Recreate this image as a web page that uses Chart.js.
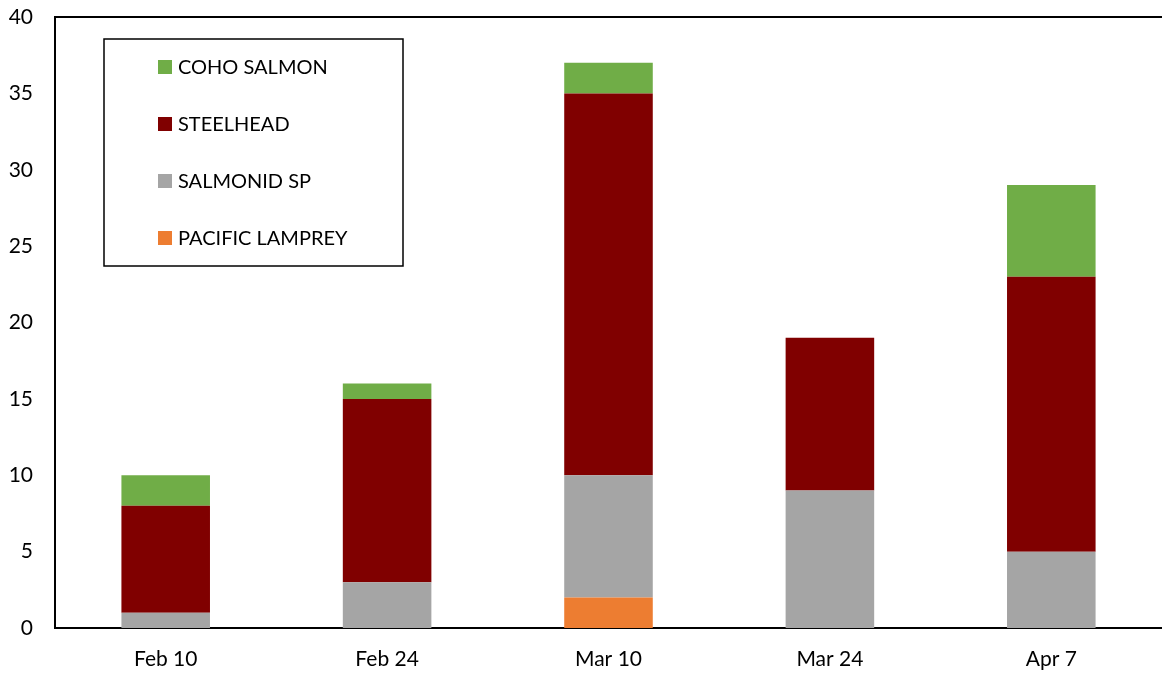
<!DOCTYPE html>
<html>
<head>
<meta charset="utf-8">
<script src="https://cdn.jsdelivr.net/npm/chart.js@4"></script>
<style>
  html, body { margin: 0; padding: 0; background: #fff; }
  #wrap { width: 1162px; height: 675px; position: relative; }
</style>
</head>
<body>
<div id="wrap"><canvas id="fishChart"></canvas></div>
<script>
// Datos
const fechas = ['Feb 10', 'Feb 24', 'Mar 10', 'Mar 24', 'Apr 7'];
const pacificLamprey = [0, 0, 2, 0, 0];
const salmonidSp = [1, 3, 8, 9, 5];
const steelhead = [7, 12, 25, 10, 18];
const cohoSalmon = [2, 1, 2, 0, 6];
const yTicks = [0, 5, 10, 15, 20, 25, 30, 35, 40];

const FONT = 'Lato, "Noto Sans", sans-serif';

// Leyenda dibujada dentro del area del grafico, con recuadro
const boxedLegend = {
    id: 'boxedLegend',
    afterDraw(chart) {
        const ctx = chart.ctx;
        const area = chart.chartArea;
        ctx.save();
        // borde superior del area de trazado
        ctx.strokeStyle = '#000';
        ctx.lineWidth = 2;
        ctx.beginPath();
        ctx.moveTo(area.left, area.top);
        ctx.lineTo(area.right, area.top);
        ctx.stroke();

        const x = 104, y = 39, w = 299, h = 227;
        ctx.lineWidth = 1.5;
        ctx.strokeRect(x, y, w, h);

        const items = chart.data.datasets.slice().reverse();
        ctx.font = '20px ' + FONT;
        ctx.textBaseline = 'middle';
        ctx.textAlign = 'left';
        items.forEach((ds, i) => {
            const cy = 67 + i * 57;
            ctx.fillStyle = ds.backgroundColor;
            ctx.fillRect(158, cy - 7, 14, 14);
            ctx.fillStyle = '#000';
            ctx.fillText(ds.label, 178, cy + 1);
        });
        ctx.restore();
    }
};

new Chart(document.getElementById('fishChart'), {
    type: 'bar',
    data: {
        labels: fechas,
        datasets: [
            { label: 'PACIFIC LAMPREY', data: pacificLamprey, backgroundColor: '#ED7D31' },
            { label: 'SALMONID SP', data: salmonidSp, backgroundColor: '#A5A5A5' },
            { label: 'STEELHEAD', data: steelhead, backgroundColor: '#800000' },
            { label: 'COHO SALMON', data: cohoSalmon, backgroundColor: '#70AD47' }
        ]
    },
    options: {
        responsive: true,
        maintainAspectRatio: false,
        animation: false,
        layout: { padding: { top: 17, right: -3, left: 0, bottom: 0 } },
        datasets: { bar: { categoryPercentage: 1, barPercentage: 0.4, borderWidth: 0 } },
        scales: {
            x: {
                stacked: true,
                grid: { display: false, drawTicks: false },
                border: { color: '#000', width: 2 },
                ticks: { color: '#000', font: { family: FONT, size: 21 }, padding: 19, maxRotation: 0 },
                afterFit: s => { s.height = 47; }
            },
            y: {
                stacked: true,
                min: 0,
                max: 40,
                grid: { display: false, drawTicks: false },
                border: { color: '#000', width: 2 },
                afterBuildTicks: s => { s.ticks = yTicks.map(v => ({ value: v })); },
                ticks: { color: '#000', font: { family: FONT, size: 21 }, padding: 22 },
                afterFit: s => { s.width = 55; s.paddingTop = 0; s.paddingBottom = 0; }
            }
        },
        plugins: {
            legend: { display: false },
            tooltip: { enabled: false }
        }
    },
    plugins: [boxedLegend]
});
</script>
</body>
</html>
